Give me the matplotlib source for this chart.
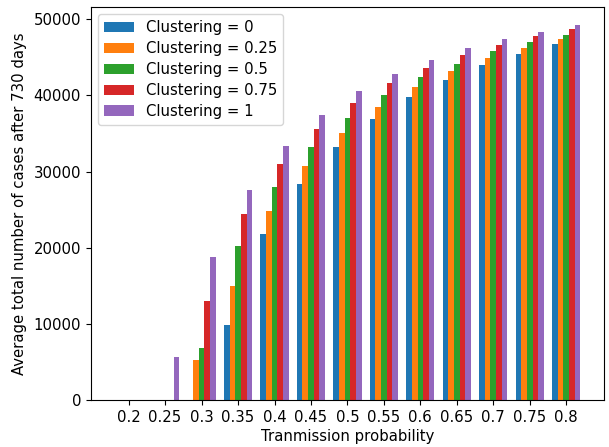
import numpy as np
import matplotlib
matplotlib.use("Agg")
import matplotlib.pyplot as plt

# transmission probabilities on the x axis
probs = ["0.2", "0.25", "0.3", "0.35", "0.4", "0.45", "0.5",
         "0.55", "0.6", "0.65", "0.7", "0.75", "0.8"]

# average total cases after 730 days, one list per clustering level
c_0 = [0, 0, 0, 9870, 21750, 28400, 33200, 36900, 39800, 41970, 43950, 45400, 46700]
c_025 = [0, 0, 5260, 15000, 24800, 30700, 35100, 38500, 41100, 43160, 44870, 46200, 47370]
c_05 = [0, 0, 6840, 20260, 27980, 33200, 37060, 40100, 42400, 44200, 45800, 46970, 48000]
c_075 = [0, 0, 13030, 24470, 31000, 35600, 39000, 41700, 43550, 45260, 46600, 47760, 48700]
c_1 = [0, 5660, 18800, 27630, 33400, 37500, 40600, 42760, 44600, 46200, 47370, 48300, 49200]

series = [c_0, c_025, c_05, c_075, c_1]
labels = ["Clustering = 0", "Clustering = 0.25", "Clustering = 0.5",
          "Clustering = 0.75", "Clustering = 1"]

plt.rcParams["font.size"] = 10.7

fig = plt.figure(figsize=(6.09, 4.47), dpi=100)
ax = fig.add_axes([0.149, 0.105, 0.843, 0.880])

x = np.arange(len(probs))
width = 0.155
for i, (vals, lab) in enumerate(zip(series, labels)):
    ax.bar(x + (i - 2) * width, vals, width, label=lab)

ax.set_xlim(-1.04, 13.04)
ax.set_xticks(x)
ax.set_xticklabels(probs)
ax.set_xlabel("Tranmission probability", labelpad=3)
ax.set_ylabel("Average total number of cases after 730 days", labelpad=5)
ax.legend(loc="upper left", labelspacing=0.4)

fig.savefig("out.png", dpi=100)
